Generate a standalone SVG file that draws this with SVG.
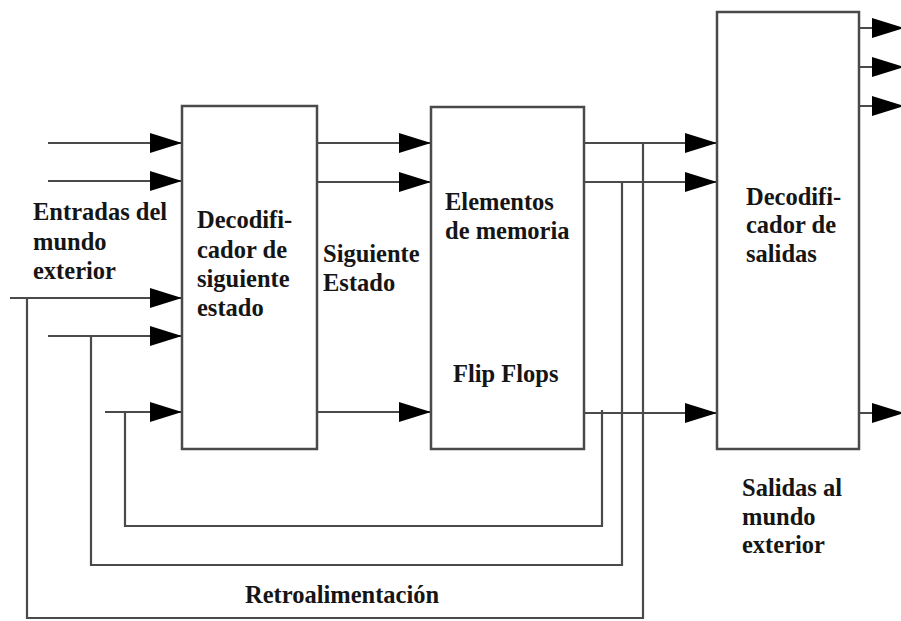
<svg xmlns="http://www.w3.org/2000/svg" width="901" height="621" viewBox="0 0 901 621">
<defs>
<style>
.box{fill:#fff;stroke:#4a4a4a;stroke-width:2.5}
.ln{fill:none;stroke:#4a4a4a;stroke-width:2.2}
.arr{marker-end:url(#ah)}
text{font-family:"Liberation Serif","Times New Roman",serif;font-weight:bold;font-size:24.5px;fill:#151515}
</style>
<marker id="ah" markerUnits="userSpaceOnUse" markerWidth="33" markerHeight="22" refX="32" refY="11" orient="auto" viewBox="0 0 33 22">
<path d="M0,1 L32,11 L0,21 z" fill="#000"/>
</marker>
</defs>
<rect width="901" height="621" fill="#fff"/>
<g id="connectors">
<line class="ln arr" x1="48" y1="143" x2="182" y2="143"/>
<line class="ln arr" x1="48" y1="181" x2="182" y2="181"/>
<line class="ln arr" x1="10" y1="298" x2="182" y2="298"/>
<line class="ln arr" x1="48" y1="336" x2="182" y2="336"/>
<line class="ln arr" x1="105" y1="412" x2="182" y2="412"/>
<line class="ln arr" x1="317" y1="143" x2="431" y2="143"/>
<line class="ln arr" x1="317" y1="182" x2="431" y2="182"/>
<line class="ln arr" x1="317" y1="412" x2="431" y2="412"/>
<line class="ln arr" x1="584" y1="143" x2="717" y2="143"/>
<line class="ln arr" x1="584" y1="182" x2="717" y2="182"/>
<line class="ln arr" x1="581" y1="413" x2="717" y2="413"/>
<line class="ln arr" x1="859" y1="28" x2="904" y2="28"/>
<line class="ln arr" x1="859" y1="67" x2="904" y2="67"/>
<line class="ln arr" x1="859" y1="106" x2="904" y2="106"/>
<line class="ln arr" x1="859" y1="413" x2="904" y2="413"/>
<polyline class="ln" points="643,143 643,618 27,618 27,298"/>
<polyline class="ln" points="622,182 622,565 91,565 91,336"/>
<polyline class="ln" points="602,410 602,526 125,526 125,412"/>
</g>
<g id="decodificador-siguiente">
<rect class="box" x="182" y="106" width="135" height="343"/>
<text x="197" y="228">Decodifi-</text>
<text x="197" y="258">cador de</text>
<text x="197" y="287">siguiente</text>
<text x="197" y="316">estado</text>
</g>
<g id="memoria">
<rect class="box" x="431" y="107" width="153" height="342"/>
<text x="445" y="210">Elementos</text>
<text x="445" y="239">de memoria</text>
<text x="453" y="382">Flip Flops</text>
</g>
<g id="decodificador-salidas">
<rect class="box" x="717" y="12" width="142" height="437"/>
<text x="746" y="205">Decodifi-</text>
<text x="746" y="233">cador de</text>
<text x="746" y="262">salidas</text>
</g>
<g id="labels">
<text x="33" y="220">Entradas del</text>
<text x="33" y="250">mundo</text>
<text x="33" y="279">exterior</text>
<text x="323" y="262">Siguiente</text>
<text x="323" y="291">Estado</text>
<text x="742" y="496">Salidas al</text>
<text x="742" y="525">mundo</text>
<text x="742" y="553">exterior</text>
<text x="245" y="603">Retroalimentación</text>
</g>
</svg>
